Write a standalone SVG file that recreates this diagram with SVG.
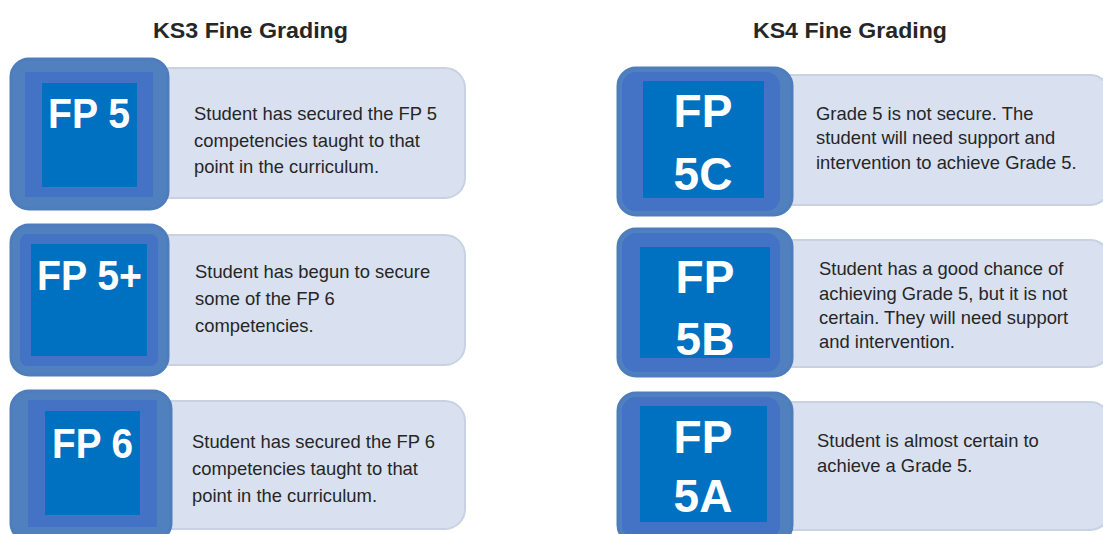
<svg xmlns="http://www.w3.org/2000/svg" width="1103" height="534" viewBox="0 0 1103 534">
<style>
.title{font-family:"Liberation Sans",Arial,sans-serif;font-weight:bold;font-size:22px;fill:#262626}
.badge{fill:#5080BE;stroke:#4E7DBD;stroke-width:3}
.inner{fill:#4472C4}
.sq{fill:#0070C0}
.lbl{font-family:"Liberation Sans",Arial,sans-serif;font-weight:bold;fill:#ffffff}
.panel{fill:#D9E1F1;stroke:#C9D2E2;stroke-width:2}
.desc{font-family:"Liberation Sans",Arial,sans-serif;font-size:18.4px;fill:#262626}
</style>
<rect width="1103" height="534" fill="#ffffff"/>
<text class="title" x="153" y="38" textLength="195" lengthAdjust="spacingAndGlyphs">KS3 Fine Grading</text>
<text class="title" x="753" y="38" textLength="194" lengthAdjust="spacingAndGlyphs">KS4 Fine Grading</text>

<g id="ks3-fp5">
<rect class="panel" x="150" y="68" width="315" height="130" rx="20"/>
<rect class="badge" x="11" y="59" width="157" height="150" rx="18"/>
<rect class="inner" x="25" y="72" width="128" height="125"/>
<rect class="sq" x="42" y="83" width="95" height="104"/>
<text class="lbl" x="48" y="128" font-size="42" textLength="82" lengthAdjust="spacingAndGlyphs">FP 5</text>
<text class="desc" x="194" y="120" textLength="243" lengthAdjust="spacingAndGlyphs">Student has secured the FP 5</text>
<text class="desc" x="194" y="147">competencies taught to that</text>
<text class="desc" x="194" y="173">point in the curriculum.</text>
</g>

<g id="ks3-fp5plus">
<rect class="panel" x="150" y="235" width="315" height="130" rx="20"/>
<rect class="badge" x="11" y="225" width="157" height="150" rx="18"/>
<rect class="inner" x="20" y="234" width="138" height="132" rx="8"/>
<rect class="sq" x="31" y="244" width="116" height="112"/>
<text class="lbl" x="37" y="290" font-size="42" textLength="105" lengthAdjust="spacingAndGlyphs">FP 5+</text>
<text class="desc" x="195" y="278">Student has begun to secure</text>
<text class="desc" x="195" y="305">some of the FP 6</text>
<text class="desc" x="195" y="332">competencies.</text>
</g>

<g id="ks3-fp6">
<rect class="panel" x="150" y="401" width="315" height="128" rx="20"/>
<rect class="badge" x="11" y="391" width="160" height="150" rx="18"/>
<rect class="inner" x="28" y="400" width="129" height="127"/>
<rect class="sq" x="45" y="411" width="95" height="104"/>
<text class="lbl" x="52" y="458" font-size="42" textLength="81" lengthAdjust="spacingAndGlyphs">FP 6</text>
<text class="desc" x="192" y="448" textLength="243" lengthAdjust="spacingAndGlyphs">Student has secured the FP 6</text>
<text class="desc" x="192" y="475">competencies taught to that</text>
<text class="desc" x="192" y="502">point in the curriculum.</text>
</g>

<g id="ks4-fp5c">
<rect class="panel" x="770" y="75" width="340" height="130" rx="20"/>
<rect class="badge" x="618" y="68" width="174" height="147" rx="18"/>
<rect class="inner" x="622" y="72" width="158" height="139" rx="14"/>
<rect class="sq" x="643" y="81" width="121" height="117"/>
<text class="lbl" x="703" y="127" font-size="46" text-anchor="middle">FP</text>
<text class="lbl" x="703" y="190" font-size="46" text-anchor="middle">5C</text>
<text class="desc" x="816" y="120">Grade 5 is not secure. The</text>
<text class="desc" x="816" y="144">student will need support and</text>
<text class="desc" x="816" y="169">intervention to achieve Grade 5.</text>
</g>

<g id="ks4-fp5b">
<rect class="panel" x="770" y="240" width="340" height="127" rx="20"/>
<rect class="badge" x="618" y="229" width="174" height="147" rx="18"/>
<rect class="inner" x="622" y="233" width="158" height="139" rx="14"/>
<rect class="sq" x="640" y="247" width="130" height="111"/>
<text class="lbl" x="705" y="293" font-size="46" text-anchor="middle">FP</text>
<text class="lbl" x="705" y="355" font-size="46" text-anchor="middle">5B</text>
<text class="desc" x="819" y="275">Student has a good chance of</text>
<text class="desc" x="819" y="300">achieving Grade 5, but it is not</text>
<text class="desc" x="819" y="324">certain. They will need support</text>
<text class="desc" x="819" y="348">and intervention.</text>
</g>

<g id="ks4-fp5a">
<rect class="panel" x="770" y="402" width="340" height="128" rx="20"/>
<rect class="badge" x="618" y="393" width="174" height="150" rx="18"/>
<rect class="inner" x="622" y="397" width="158" height="142" rx="14"/>
<rect class="sq" x="640" y="406" width="127" height="116"/>
<text class="lbl" x="703" y="453" font-size="46" text-anchor="middle">FP</text>
<text class="lbl" x="703" y="512" font-size="46" text-anchor="middle">5A</text>
<text class="desc" x="817" y="447">Student is almost certain to</text>
<text class="desc" x="817" y="472">achieve a Grade 5.</text>
</g>

<g id="connectors"></g>
</svg>
